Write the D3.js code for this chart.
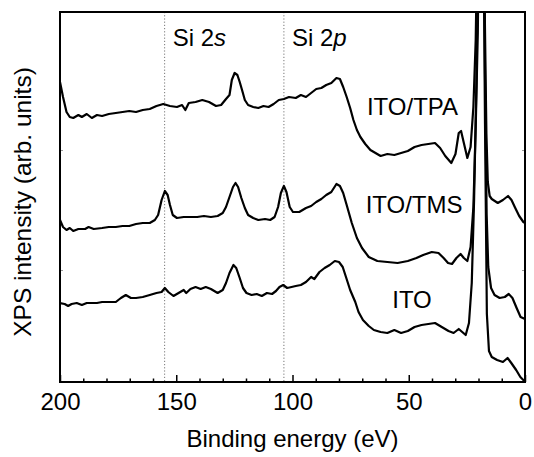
<!DOCTYPE html>
<html>
<head>
<meta charset="utf-8">
<script src="https://cdn.jsdelivr.net/npm/d3@7"></script>
<style>
  body { margin: 0; background: #fff; }
  text { font-family: "Liberation Sans", Arial, sans-serif; fill: #000; }
</style>
</head>
<body>
<div id="chart"></div>
<script>
// binding energy (eV), intensity (arb. units, offset spectra)
const ITO_TPA = [
  [200, 29.2], [198.7, 27.7], [197.2, 26.2], [195.8, 25.7], [194.3, 25.6], [192.1, 25.9],
  [190.6, 25.7], [188.5, 26.0], [186.3, 25.6], [184.1, 25.9], [181.9, 25.8], [179.0, 26.0],
  [176.0, 26.1], [173.1, 26.2], [170.2, 26.3], [167.3, 26.2], [164.4, 26.4], [161.4, 26.5],
  [158.5, 26.8], [155.6, 27.0], [152.7, 26.8], [149.7, 26.7], [147.5, 26.9], [146.1, 26.4],
  [144.6, 27.1], [141.7, 27.2], [138.8, 27.4], [135.9, 27.2], [132.9, 26.8], [130.7, 26.9],
  [128.6, 27.5], [127.1, 27.9], [126.1, 29.4], [124.9, 30.1], [123.7, 29.9], [122.7, 29.2],
  [121.7, 28.4], [120.5, 27.4], [119.1, 26.9], [116.9, 26.7], [114.7, 26.6], [112.5, 26.8],
  [110.3, 26.7], [108.1, 27.0], [105.9, 27.4], [103.7, 27.5], [101.5, 27.7], [98.6, 27.6],
  [96.4, 27.9], [94.2, 27.7], [92.0, 28.1], [89.8, 28.5], [87.6, 28.6], [85.5, 28.9],
  [83.3, 29.1], [81.1, 29.6], [79.6, 29.5], [78.2, 28.7], [76.7, 27.7], [75.2, 26.6],
  [73.8, 25.4], [72.3, 24.4], [70.8, 23.7], [68.7, 23.0], [66.5, 22.4], [64.3, 22.1],
  [62.1, 21.8], [59.2, 22.0], [56.2, 21.9], [53.3, 22.1], [50.4, 22.3], [47.5, 22.7],
  [44.5, 22.9], [41.6, 23.0], [38.7, 23.1], [36.5, 22.6], [34.3, 21.8], [31.7, 21.1],
  [29.9, 22.0], [28.5, 24.1], [27.5, 24.3], [26.3, 23.1], [24.8, 21.6], [23.4, 22.7],
  [22.2, 26.7], [21.2, 33.4], [20.2, 48], [19.0, 80], [18.2, 60], [17.3, 36],
  [16.6, 24], [16.0, 19.2], [15.2, 17.8], [14.3, 17.5], [11.7, 17.1], [9.5, 17.4],
  [7.3, 17.8], [5.8, 17.4], [4.4, 16.7], [2.5, 15.8], [0.7, 15.2], [0, 15.1]
];
const ITO_TMS = [
  [200, 15.4], [198.7, 14.7], [197.2, 14.4], [195.8, 14.6], [194.3, 14.3], [192.1, 14.5],
  [189.2, 14.5], [187.7, 14.7], [185.5, 14.5], [181.9, 14.6], [179.0, 14.7], [176.0, 14.7],
  [173.1, 14.8], [170.2, 14.8], [167.3, 15.0], [164.4, 15.1], [161.4, 15.1], [159.2, 15.4],
  [157.8, 15.9], [156.3, 17.4], [154.9, 18.3], [153.7, 17.9], [152.7, 16.9], [151.5, 15.9],
  [149.7, 15.6], [146.8, 15.7], [143.9, 15.7], [141.0, 15.7], [138.1, 15.8], [135.1, 15.7],
  [132.2, 15.8], [130.0, 16.1], [128.6, 16.7], [127.1, 17.7], [125.6, 18.7], [124.5, 19.1],
  [123.4, 18.7], [122.0, 17.6], [120.5, 16.6], [119.1, 15.9], [116.9, 15.6], [114.7, 15.4],
  [111.8, 15.5], [109.6, 15.4], [107.7, 15.7], [106.2, 16.7], [105.0, 18.1], [103.7, 18.8],
  [102.6, 18.2], [101.2, 16.7], [99.8, 16.2], [97.1, 16.2], [94.2, 16.6], [92.0, 16.8],
  [89.8, 17.2], [87.6, 17.5], [85.5, 17.9], [83.3, 18.2], [81.1, 19.0], [79.6, 18.8],
  [78.2, 18.1], [76.7, 16.9], [74.5, 15.1], [72.3, 13.6], [70.1, 12.6], [67.2, 11.7],
  [63.5, 11.3], [59.2, 11.2], [54.8, 11.1], [50.4, 11.3], [46.7, 11.6], [43.8, 11.9],
  [40.1, 12.2], [37.2, 12.1], [35.0, 11.6], [33.1, 11.1], [31.4, 11.0], [29.5, 11.6],
  [27.7, 12.0], [26.3, 11.6], [24.8, 11.3], [23.4, 12.7], [22.2, 16.7], [21.2, 24.7],
  [20.3, 34.1], [19.6, 50], [18.9, 80], [18.0, 55], [17.2, 30], [16.5, 16],
  [15.8, 10.7], [14.6, 8.6], [13.1, 7.9], [10.9, 7.6], [8.7, 7.7], [7.0, 8.0],
  [5.4, 7.6], [3.6, 6.6], [1.9, 5.7], [0, 5.5]
];
const ITO = [
  [200, 7.1], [198.0, 7.0], [196.5, 6.8], [195.0, 7.0], [192.8, 7.1], [190.6, 6.9],
  [188.5, 7.1], [186.3, 7.1], [184.1, 7.1], [181.9, 7.2], [179.0, 7.2], [176.0, 7.2],
  [173.8, 7.6], [171.7, 7.9], [169.5, 7.6], [167.3, 7.6], [164.4, 7.7], [161.4, 7.9],
  [158.5, 8.1], [156.3, 8.2], [154.9, 8.6], [153.4, 8.2], [151.2, 7.8], [149.0, 8.1],
  [146.8, 8.4], [145.7, 8.1], [143.9, 8.5], [141.7, 8.7], [139.5, 8.5], [137.3, 8.7],
  [135.1, 8.5], [132.2, 8.1], [130.0, 8.4], [128.6, 9.1], [127.1, 10.1], [125.4, 10.9],
  [124.2, 10.6], [122.7, 9.6], [121.3, 8.6], [119.8, 8.1], [117.6, 7.9], [115.4, 8.0],
  [113.2, 7.8], [111.0, 8.1], [108.8, 8.0], [107.1, 8.3], [105.6, 8.7], [104.0, 8.9],
  [102.3, 8.6], [100.4, 8.7], [98.6, 8.8], [96.4, 8.9], [94.2, 9.2], [92.0, 9.7],
  [90.6, 9.5], [88.4, 10.2], [86.2, 10.6], [84.0, 10.9], [81.8, 11.3], [80.0, 11.2],
  [78.4, 10.7], [77.0, 9.7], [75.2, 8.4], [73.0, 7.2], [71.6, 6.2], [69.7, 5.4],
  [67.2, 4.8], [65.0, 4.4], [62.1, 4.2], [59.2, 4.1], [56.2, 4.4], [53.3, 4.1],
  [50.4, 4.3], [47.5, 4.7], [44.5, 4.9], [41.6, 5.0], [38.7, 5.1], [35.8, 4.7],
  [32.9, 4.3], [30.7, 4.1], [28.5, 4.5], [27.0, 4.2], [25.5, 3.9], [24.1, 5.1],
  [22.9, 9.1], [21.9, 17.4], [20.9, 29.1], [20.1, 45], [19.1, 80], [18.2, 55],
  [17.2, 25], [16.4, 6.0], [15.5, 2.3], [14.3, 1.7], [12.0, 1.4], [9.5, 1.2],
  [7.5, 1.6], [5.9, 1.1], [3.8, 0.4], [2.0, -0.3], [0.3, -0.7], [0, -0.8]
];
const series = [ITO_TPA, ITO_TMS, ITO];

const seriesLabels = ["ITO/TPA", "ITO/TMS", "ITO"];
const labelPos = [[48.4, 25.9], [47.7, 16.1], [48.6, 6.6]];   // [eV, intensity] of label centre / baseline

const peakLines = [155, 103.7];
const peakNames = [["Si 2", "s"], ["Si 2", "p"]];

const xMajor = [200, 150, 100, 50, 0];
const xMinor = d3.range(190, 0, -10).filter(v => v % 50 !== 0);
const yTicks = [10.4, 22.4];

const width = 534, height = 457;
const margin = { top: 12, right: 9, bottom: 75, left: 60 };

const svg = d3.select("#chart").append("svg")
  .attr("width", width)
  .attr("height", height);

const x = d3.scaleLinear().domain([200, 0]).range([margin.left, width - margin.right]);
const y = d3.scaleLinear().domain([-0.8, 36.2]).range([height - margin.bottom, margin.top]);

svg.append("clipPath").attr("id", "plot-clip")
  .append("rect")
  .attr("x", margin.left).attr("y", margin.top)
  .attr("width", x(0) - x(200)).attr("height", y(-0.8) - y(36.2));

// dotted guide lines for Si peaks
svg.selectAll(".guide").data(peakLines).join("line")
  .attr("class", "guide")
  .attr("x1", d => x(d)).attr("x2", d => x(d))
  .attr("y1", y(36.2)).attr("y2", y(-0.8))
  .attr("stroke", "#777")
  .attr("stroke-width", 1)
  .attr("stroke-dasharray", "1.2,2");

const line = d3.line().x(d => x(d[0])).y(d => y(d[1]));

svg.append("g").attr("clip-path", "url(#plot-clip)")
  .selectAll("path").data(series).join("path")
  .attr("d", line)
  .attr("fill", "none")
  .attr("stroke", "#000")
  .attr("stroke-width", 2.2)
  .attr("stroke-linejoin", "round");

// x axis, ticks pointing inward
const xAxis = svg.append("g")
  .attr("transform", `translate(0,${y(-0.8)})`)
  .call(d3.axisBottom(x).tickValues(xMajor).tickSize(-7).tickPadding(11).tickFormat(d3.format("d")));
xAxis.select(".domain").remove();
xAxis.selectAll("line").attr("stroke-width", 1.5);
xAxis.selectAll("text").attr("font-size", 24).attr("font-family", "Liberation Sans, Arial, sans-serif");

const xMinorAxis = svg.append("g")
  .attr("transform", `translate(0,${y(-0.8)})`)
  .call(d3.axisBottom(x).tickValues(xMinor).tickSize(-3.5).tickFormat(""));
xMinorAxis.select(".domain").remove();
xMinorAxis.selectAll("line").attr("stroke-width", 1.5);

const yAxisL = svg.append("g")
  .attr("transform", `translate(${x(200)},0)`)
  .call(d3.axisLeft(y).tickValues(yTicks).tickSize(-3).tickFormat(""));
yAxisL.select(".domain").remove();
yAxisL.selectAll("line").attr("stroke", "#999");

const yAxisR = svg.append("g")
  .attr("transform", `translate(${x(0)},0)`)
  .call(d3.axisRight(y).tickValues(yTicks).tickSize(-3).tickFormat(""));
yAxisR.select(".domain").remove();
yAxisR.selectAll("line").attr("stroke", "#999");

// frame
svg.append("rect")
  .attr("x", x(200)).attr("y", y(36.2))
  .attr("width", x(0) - x(200)).attr("height", y(-0.8) - y(36.2))
  .attr("fill", "none")
  .attr("stroke", "#000")
  .attr("stroke-width", 2);

// Si peak names
const names = svg.selectAll(".pname").data(peakNames).join("text")
  .attr("class", "pname")
  .attr("x", (d, i) => x(peakLines[i]) + 8)
  .attr("y", 46)
  .attr("font-size", 24);
names.append("tspan").text(d => d[0]);
names.append("tspan").attr("font-style", "italic").text(d => d[1]);

// series labels
svg.selectAll(".slabel").data(seriesLabels).join("text")
  .attr("class", "slabel")
  .attr("x", (d, i) => x(labelPos[i][0]))
  .attr("y", (d, i) => y(labelPos[i][1]))
  .attr("text-anchor", "middle")
  .attr("font-size", 24)
  .text(d => d);

// axis titles
svg.append("text")
  .attr("x", (x(200) + x(0)) / 2)
  .attr("y", 447)
  .attr("text-anchor", "middle")
  .attr("font-size", 24)
  .text("Binding energy (eV)");

svg.append("text")
  .attr("transform", `translate(31,${(y(36.2) + y(-0.8)) / 2 + 5}) rotate(-90)`)
  .attr("text-anchor", "middle")
  .attr("font-size", 24.5)
  .text("XPS intensity (arb. units)");
</script>
</body>
</html>
